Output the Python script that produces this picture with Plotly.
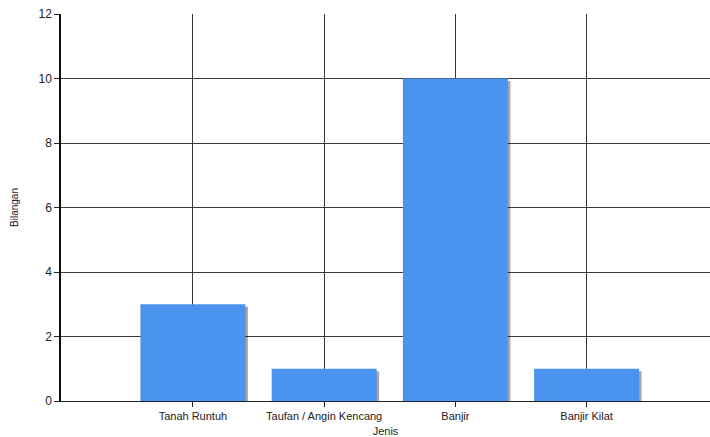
import plotly.graph_objects as go

categories = ["Tanah Runtuh", "Taufan / Angin Kencang", "Banjir", "Banjir Kilat"]
values = [3, 1, 10, 1]
y_ticks = [0, 2, 4, 6, 8, 10, 12]

bar_color = "#4A93EF"
shadow_px = 2.5
px_per_x = 131.33
px_per_y = 387 / 12

fig = go.Figure()
# shadow
fig.add_trace(go.Bar(
    x=list(range(len(categories))), y=[v - shadow_px / px_per_y for v in values],
    width=0.8, offset=-0.4 + shadow_px / px_per_x,
    marker=dict(color="rgba(0,0,0,0.35)", line=dict(width=0)),
    hoverinfo="skip", showlegend=False,
))
fig.add_trace(go.Bar(
    x=list(range(len(categories))), y=values,
    width=0.8, offset=-0.4,
    marker=dict(color=bar_color, line=dict(width=0)),
    showlegend=False,
))

font = dict(family="Liberation Sans, Arial, sans-serif", size=11, color="#222")

fig.update_layout(
    width=710, height=437,
    margin=dict(l=61, r=0, t=14, b=36),
    paper_bgcolor="white", plot_bgcolor="white",
    barmode="overlay",
    font=font,
    xaxis=dict(
        range=[-1.005, 3.94],
        tickmode="array", tickvals=list(range(len(categories))), ticktext=categories,
        showgrid=True, gridcolor="#3a3a3a", gridwidth=1,
        ticks="outside", ticklen=5, tickcolor="#222",
        showline=True, linecolor="#222", linewidth=1,
        zeroline=False,
        title=dict(text="Jenis", font=dict(size=11), standoff=8),
        tickfont=dict(size=11),
    ),
    yaxis=dict(
        range=[0, 12], tickmode="array", tickvals=y_ticks,
        showgrid=True, gridcolor="#3a3a3a", gridwidth=1,
        ticks="outside", ticklen=5, tickcolor="#222",
        showline=True, linecolor="#111", linewidth=1.5,
        zeroline=False,
        title=dict(text="Bilangan", font=dict(size=10), standoff=18),
        tickfont=dict(size=12),
    ),
)

fig.write_html("out.html")
